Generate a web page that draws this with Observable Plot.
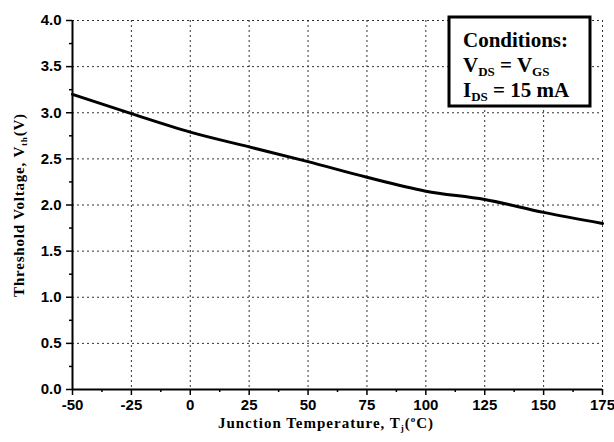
<!DOCTYPE html>
<html>
<head>
<meta charset="utf-8">
<script src="https://cdn.jsdelivr.net/npm/d3@7"></script>
<script src="https://cdn.jsdelivr.net/npm/@observablehq/plot@0.6"></script>
<style>
  html, body { margin: 0; padding: 0; background: #fff; }
  #chart svg { display: block; }
</style>
</head>
<body>
<div id="chart"></div>
<script>
// Data
const temperatures = [-50, -25, 0, 25, 50, 75, 100, 125, 150, 175];
const thresholdVoltage = [3.20, 2.99, 2.79, 2.63, 2.47, 2.30, 2.15, 2.06, 1.92, 1.80];
const xTicks = [-50, -25, 0, 25, 50, 75, 100, 125, 150, 175];
const yTicks = [0, 0.5, 1.0, 1.5, 2.0, 2.5, 3.0, 3.5, 4.0];
const xMinor = [-37.5, -12.5, 12.5, 37.5, 62.5, 87.5, 112.5, 137.5, 162.5];
const yMinor = [0.25, 0.75, 1.25, 1.75, 2.25, 2.75, 3.25, 3.75];

const data = temperatures.map((t, i) => ({t, v: thresholdVoltage[i]}));

const tickFont = {fontFamily: "Liberation Sans, Arial, sans-serif", fontWeight: "bold", fontSize: 15};

const plot = Plot.plot({
  width: 614,
  height: 442,
  marginLeft: 72,
  marginRight: 12,
  marginTop: 20,
  marginBottom: 53,
  style: {background: "#fff", color: "#000", overflow: "visible"},
  x: {domain: [-50, 175]},
  y: {domain: [0, 4]},
  marks: [
    Plot.gridX(xTicks.slice(1), {stroke: "#333", strokeOpacity: 1, strokeDasharray: "2,3", strokeWidth: 1}),
    Plot.gridY(yTicks.slice(1), {stroke: "#333", strokeOpacity: 1, strokeDasharray: "2,3", strokeWidth: 1}),
    Plot.axisX(xTicks, {tickSize: 6, tickPadding: 4, strokeWidth: 1.5, tickFormat: d => String(d), label: null, ...tickFont}),
    Plot.axisX(xMinor, {tickSize: 3, strokeWidth: 1.5, text: null, label: null}),
    Plot.axisY(yTicks, {tickSize: 6, tickPadding: 5, strokeWidth: 1.5, tickFormat: d3.format(".1f"), label: null, ...tickFont}),
    Plot.axisY(yMinor, {tickSize: 3, strokeWidth: 1.5, text: null, label: null}),
    Plot.ruleY([0], {stroke: "#000", strokeWidth: 2}),
    Plot.ruleX([-50], {stroke: "#000", strokeWidth: 2}),
    Plot.line(data, {x: "t", y: "v", stroke: "#000", strokeWidth: 3, curve: "monotone-x"})
  ]
});

document.getElementById("chart").appendChild(plot);

const svg = d3.select(plot);
// Make sure tick labels are bold and sized like the reference
svg.selectAll('g[aria-label$="tick label"] text')
  .style("font-size", "15px")
  .style("font-weight", "bold")
  .style("font-family", "Liberation Sans, Arial, sans-serif");

const serif = "Liberation Serif, Times New Roman, serif";

// Y axis title
const yt = svg.append("text")
  .attr("transform", "translate(24,205) rotate(-90)")
  .attr("text-anchor", "middle")
  .attr("font-family", serif).attr("font-weight", "bold").attr("font-size", 15)
  .attr("letter-spacing", "0.8px")
  .attr("fill", "#000");
yt.append("tspan").text("Threshold Voltage, V");
yt.append("tspan").attr("font-size", 9).attr("dy", 3).text("th");
yt.append("tspan").attr("dy", -3).text("(V)");

// X axis title
const xt = svg.append("text")
  .attr("x", 326).attr("y", 428)
  .attr("text-anchor", "middle")
  .attr("font-family", serif).attr("font-weight", "bold").attr("font-size", 15)
  .attr("letter-spacing", "1px")
  .attr("fill", "#000");
xt.append("tspan").text("Junction Temperature, T");
xt.append("tspan").attr("font-size", 9).attr("dy", 3).text("j");
xt.append("tspan").attr("dy", -3).text("(");
xt.append("tspan").attr("font-size", 9).attr("dy", -6).text("o");
xt.append("tspan").attr("dy", 6).text("C)");

// Conditions box
const g = svg.append("g");
g.append("rect").attr("x", 449).attr("y", 17).attr("width", 141).attr("height", 89)
  .attr("fill", "#fff").attr("stroke", "#000").attr("stroke-width", 3);
const lines = [
  [["Conditions:", 0]],
  [["V", 0], ["DS", 1], [" = V", 0], ["GS", 1]],
  [["I", 0], ["DS", 1], [" = 15 mA", 0]]
];
lines.forEach((parts, i) => {
  const t = g.append("text")
    .attr("x", 463).attr("y", 47 + i * 25)
    .attr("text-anchor", "start")
    .attr("font-family", serif).attr("font-weight", "bold").attr("font-size", 21)
    .attr("fill", "#000");
  let sub = 0;
  parts.forEach(([s, isSub]) => {
    const ts = t.append("tspan").text(s);
    if (isSub && !sub) { ts.attr("font-size", 13).attr("dy", 4); sub = 1; }
    else if (!isSub && sub) { ts.attr("dy", -4); sub = 0; }
    else if (isSub) { ts.attr("font-size", 13); }
  });
});
</script>
</body>
</html>
